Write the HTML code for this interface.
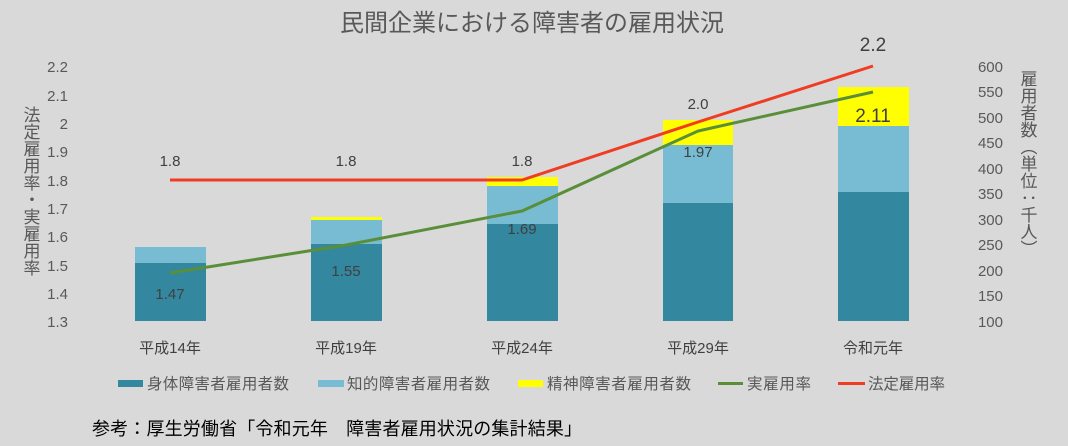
<!DOCTYPE html>
<html><head><meta charset="utf-8"><style>
html,body{margin:0;padding:0;background:#d9d9d9;}
svg{display:block;font-family:"Liberation Sans","Noto Sans CJK JP",sans-serif;}
</style></head><body>
<svg width="1068" height="446" viewBox="0 0 1068 446">
<rect width="1068" height="446" fill="#d9d9d9"/>
<text x="532" y="31" text-anchor="middle" font-size="24" fill="#595959">民間企業における障害者の雇用状況</text>
<g font-size="15" fill="#595959" text-anchor="end">
<text x="68" y="72">2.2</text><text x="68" y="101">2.1</text><text x="68" y="129">2</text><text x="68" y="157">1.9</text><text x="68" y="186">1.8</text><text x="68" y="214">1.7</text><text x="68" y="242">1.6</text><text x="68" y="271">1.5</text><text x="68" y="299">1.4</text><text x="68" y="327">1.3</text>
</g>
<g font-size="15" fill="#595959" text-anchor="end">
<text x="1003" y="72">600</text><text x="1003" y="97">550</text><text x="1003" y="123">500</text><text x="1003" y="148">450</text><text x="1003" y="174">400</text><text x="1003" y="199">350</text><text x="1003" y="225">300</text><text x="1003" y="250">250</text><text x="1003" y="276">200</text><text x="1003" y="301">150</text><text x="1003" y="327">100</text>
</g>
<text x="30" y="106" font-size="17" fill="#595959" style="writing-mode:vertical-rl" text-anchor="start">法定雇用率・実雇用率</text>
<text x="1027" y="70" font-size="17" fill="#595959" style="writing-mode:vertical-rl" text-anchor="start">雇用者数（単位：千人）</text>
<g>
<rect x="135" y="263" width="71" height="58" fill="#33879f"/><rect x="135" y="247" width="71" height="16" fill="#77bcd3"/>
<rect x="311" y="244" width="71" height="77" fill="#33879f"/><rect x="311" y="220" width="71" height="24" fill="#77bcd3"/><rect x="311" y="217" width="71" height="3" fill="#ffff00"/>
<rect x="487" y="224" width="71" height="97" fill="#33879f"/><rect x="487" y="186" width="71" height="38" fill="#77bcd3"/><rect x="487" y="177" width="71" height="9" fill="#ffff00"/>
<rect x="663" y="203" width="70" height="118" fill="#33879f"/><rect x="663" y="145" width="70" height="58" fill="#77bcd3"/><rect x="663" y="120" width="70" height="25" fill="#ffff00"/>
<rect x="838" y="192" width="71" height="129" fill="#33879f"/><rect x="838" y="126" width="71" height="66" fill="#77bcd3"/><rect x="838" y="87" width="71" height="39" fill="#ffff00"/>
</g>
<polyline points="170,273 346,245 522,211 698,131 873,92" fill="none" stroke="#5a8f3a" stroke-width="3"/>
<polyline points="170,180 522,180 698,122 873,66" fill="none" stroke="#f03c23" stroke-width="3"/>
<g font-size="15" fill="#404040" text-anchor="middle">
<text x="170" y="166">1.8</text><text x="346" y="166">1.8</text><text x="522" y="166">1.8</text><text x="698" y="109">2.0</text>
<text x="170" y="299">1.47</text><text x="346" y="276">1.55</text><text x="522" y="234">1.69</text><text x="698" y="157">1.97</text>
<text x="873" y="51" font-size="19">2.2</text><text x="873" y="122" font-size="19">2.11</text>
</g>
<g font-size="15" fill="#404040" text-anchor="middle">
<text x="170" y="353">平成14年</text><text x="346" y="353">平成19年</text><text x="522" y="353">平成24年</text><text x="698" y="353">平成29年</text><text x="873" y="353">令和元年</text>
</g>
<g font-size="15.5" fill="#595959">
<rect x="118" y="380" width="25" height="7" fill="#33879f"/><text x="147" y="389" textLength="142">身体障害者雇用者数</text>
<rect x="318" y="380" width="26" height="7" fill="#77bcd3"/><text x="347" y="389" textLength="143">知的障害者雇用者数</text>
<rect x="518" y="380" width="25" height="7" fill="#ffff00"/><text x="547" y="389" textLength="144">精神障害者雇用者数</text>
<line x1="718" y1="383.5" x2="743" y2="383.5" stroke="#5a8f3a" stroke-width="3"/><text x="747" y="389" textLength="64">実雇用率</text>
<line x1="838" y1="383.5" x2="865" y2="383.5" stroke="#f03c23" stroke-width="3"/><text x="868" y="389" textLength="77">法定雇用率</text>
</g>
<text x="92" y="435" font-size="18" fill="#000" textLength="490">参考：厚生労働省「令和元年　障害者雇用状況の集計結果」</text>
</svg>
</body></html>
